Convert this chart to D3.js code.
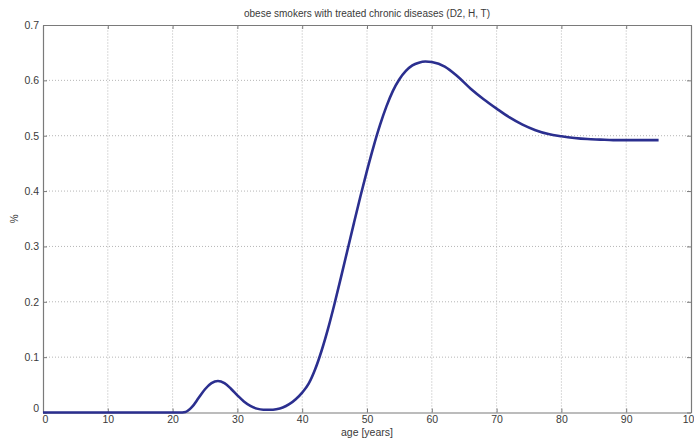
<!DOCTYPE html>
<html>
<head>
<meta charset="utf-8">
<script src="https://cdn.jsdelivr.net/npm/d3@7"></script>
<style>
  html, body { margin: 0; padding: 0; background: #ffffff; }
  svg { display: block; font-family: "Liberation Sans", Arial, sans-serif; }
</style>
</head>
<body>
<svg id="chart" width="694" height="439"></svg>
<script>
const title = "obese smokers with treated chronic diseases (D2, H, T)";
const xLabel = "age [years]";
const yLabel = "%";
const xTicks = [0, 10, 20, 30, 40, 50, 60, 70, 80, 90, 100];
const yTicks = [0, 0.1, 0.2, 0.3, 0.4, 0.5, 0.6, 0.7];
const yTickLabels = ["0", "0.1", "0.2", "0.3", "0.4", "0.5", "0.6", "0.7"];

const ages = [0, 5, 10, 15, 20, 21, 22, 23, 24, 25, 26, 27, 28, 29, 30, 31, 32, 33, 34, 35,
  36, 37, 38, 39, 40, 41, 42, 43, 44, 45, 46, 47, 48, 49, 50, 51, 52, 53, 54, 55,
  56, 57, 58, 59, 60, 62, 64, 66, 68, 70, 72, 74, 76, 78, 80, 82, 84, 86, 88, 90, 92, 95];
const shares = [0, 0, 0, 0, 0, 0, 0.001, 0.010, 0.026, 0.042, 0.053, 0.057, 0.053, 0.043, 0.031, 0.020, 0.012, 0.007, 0.005, 0.005,
  0.006, 0.009, 0.015, 0.024, 0.036, 0.052, 0.078, 0.112, 0.152, 0.197, 0.245, 0.294, 0.343, 0.391, 0.437, 0.480, 0.519, 0.553, 0.581, 0.602,
  0.617, 0.627, 0.632, 0.634, 0.633, 0.625, 0.607, 0.585, 0.566, 0.549, 0.533, 0.520, 0.510, 0.503, 0.499, 0.496, 0.494, 0.493, 0.492, 0.492, 0.492, 0.492];

const svg = d3.select("#chart");
const W = 694, H = 439;
const m = { left: 43, right: 3, top: 25, bottom: 26.5 };

const x = d3.scaleLinear().domain([0, 100]).range([m.left, W - m.right]);
const y = d3.scaleLinear().domain([0, 0.7]).range([H - m.bottom, m.top]);

const axisColor = "#7a7a7a";
const gridColor = "#b5b5b5";
const textColor = "#3a3a3a";

// grid
const grid = svg.append("g");
grid.selectAll("line.vx").data(xTicks.slice(1, -1)).enter().append("line")
  .attr("x1", d => x(d)).attr("x2", d => x(d))
  .attr("y1", y(0)).attr("y2", y(0.7))
  .attr("stroke", gridColor).attr("stroke-width", 1).attr("stroke-dasharray", "1,2");
grid.selectAll("line.hy").data(yTicks.slice(1, -1)).enter().append("line")
  .attr("y1", d => y(d)).attr("y2", d => y(d))
  .attr("x1", x(0)).attr("x2", x(100))
  .attr("stroke", gridColor).attr("stroke-width", 1).attr("stroke-dasharray", "1,2");

// axes (MATLAB style: inward ticks, box)
const xAxis = d3.axisBottom(x).tickValues(xTicks).tickSizeInner(-4).tickSizeOuter(0).tickPadding(3)
  .tickFormat(d3.format("d"));
const gx = svg.append("g").attr("transform", `translate(0,${y(0)})`).call(xAxis);
const yAxis = d3.axisLeft(y).tickValues(yTicks).tickSizeInner(-4).tickSizeOuter(0).tickPadding(4)
  .tickFormat((d, i) => yTickLabels[i]);
const gy = svg.append("g").attr("transform", `translate(${x(0)},0)`).call(yAxis);
const xTop = d3.axisTop(x).tickValues(xTicks).tickSizeInner(-4).tickSizeOuter(0).tickFormat("");
const gxt = svg.append("g").attr("transform", `translate(0,${y(0.7)})`).call(xTop);
const yRight = d3.axisRight(y).tickValues(yTicks).tickSizeInner(-4).tickSizeOuter(0).tickFormat("");
const gyr = svg.append("g").attr("transform", `translate(${x(100)},0)`).call(yRight);

[gx, gy, gxt, gyr].forEach(g => {
  g.select(".domain").attr("stroke", axisColor).attr("stroke-width", 1.2);
  g.selectAll(".tick line").attr("stroke", axisColor);
  g.selectAll(".tick text").attr("fill", textColor)
    .style("font-family", "'Liberation Sans', Arial, sans-serif").style("font-size", "10.5px");
});
// MATLAB places the two zeros offset at the corner
gx.selectAll(".tick text").filter(d => d === 0).attr("dx", "2");
gy.selectAll(".tick text").filter(d => d === 0).attr("dy", "-1");

// line
const line = d3.line().x((d, i) => x(ages[i])).y(d => y(d)).curve(d3.curveMonotoneX);
svg.append("path").datum(shares)
  .attr("d", line)
  .attr("fill", "none")
  .attr("stroke", "#2b2f8f")
  .attr("stroke-width", 2.6)
  .attr("stroke-linejoin", "round");

// texts
svg.append("text").attr("x", (x(0) + x(100)) / 2).attr("y", 17)
  .attr("text-anchor", "middle").attr("fill", textColor)
  .style("font-size", "10px").text(title);
svg.append("text").attr("x", (x(0) + x(100)) / 2).attr("y", 436)
  .attr("text-anchor", "middle").attr("fill", textColor)
  .style("font-size", "10.5px").text(xLabel);
svg.append("text").attr("transform", `translate(18,${(y(0) + y(0.7)) / 2}) rotate(-90)`)
  .attr("text-anchor", "middle").attr("fill", textColor)
  .style("font-size", "10px").text(yLabel);
</script>
</body>
</html>
